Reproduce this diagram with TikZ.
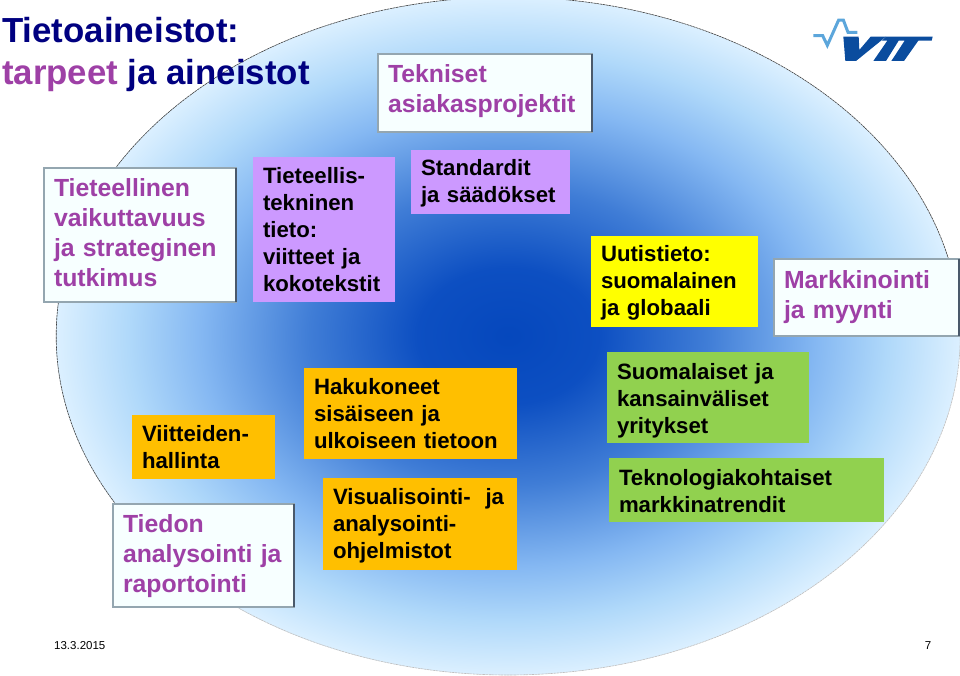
\documentclass[tikz,border=0pt]{standalone}
\usepackage{fontspec}
\setmainfont{Liberation Sans}
\usepackage{xcolor}
\usetikzlibrary{shapes.geometric, positioning}
\definecolor{titlenavy}{rgb}{0.0,0.0,0.5}
\definecolor{labelpurple}{rgb}{0.62,0.25,0.65}
\definecolor{tietopurple}{rgb}{0.80,0.60,1.0}
\definecolor{uutisyellow}{rgb}{1.0,1.0,0.0}
\definecolor{hakuorange}{rgb}{1.0,0.75,0.0}
\definecolor{yritysgreen}{rgb}{0.57,0.82,0.31}
\definecolor{bevelgrey}{rgb}{0.58,0.65,0.69}
\definecolor{beveldark}{rgb}{0.29,0.35,0.42}
\definecolor{bevelfill}{rgb}{0.97,1.0,1.0}
\definecolor{vttblue}{rgb}{0.04,0.30,0.62}
\definecolor{vttsky}{rgb}{0.36,0.65,0.86}
\pgfdeclareradialshading{discblue}{\pgfpoint{0bp}{0bp}}{
  rgb(0bp)=(0.02,0.28,0.74);
  rgb(5bp)=(0.05,0.31,0.76);
  rgb(11bp)=(0.25,0.49,0.84);
  rgb(17bp)=(0.52,0.72,0.95);
  rgb(21bp)=(0.69,0.85,0.98);
  rgb(25bp)=(0.86,0.94,1.0);
  rgb(50bp)=(1.0,1.0,1.0)}

\begin{document}
\begin{tikzpicture}[x=1pt, y=-1pt,
    box/.style 2 args={rectangle, text width=#1, minimum height=#2, inner xsep=10pt, inner ysep=0pt, align=left},
    smallbox/.style={font=\fontsize{22.2}{27}\selectfont\bfseries, text=black},
    bevelbox/.style={draw=bevelgrey, line width=1.6pt, outer sep=0pt, fill=bevelfill, font=\fontsize{24.8}{30}\selectfont\bfseries, text=labelpurple},
    bevelside/.style={draw=beveldark, line width=1.6pt},
    textdown/.style={execute at end node={\endgraf\vspace{-#1}}},
    discrim/.style={dash pattern=on 2.5pt off 0.6pt, line width=0.6pt}
]

\clip (0,0) rectangle (960,675);

\node[ellipse, minimum width=904pt, minimum height=678pt, inner sep=0pt, shade, shading=discblue] (disc) at (508,336) {};
\draw[discrim, draw=black!75] (disc.east) arc[start angle=0, end angle=215, x radius=452pt, y radius=339pt];
\draw[discrim, draw=black!25] (disc.east) arc[start angle=0, end angle=-145, x radius=452pt, y radius=339pt];

\node[anchor=west, inner sep=2pt, align=left, text=titlenavy, font=\fontsize{34.8}{42}\selectfont\bfseries] (title) at (0,54.5) {Tietoaineistot:\\\textcolor{labelpurple}{tarpeet} ja aineistot};

\node[box={194pt}{78pt}, bevelbox, textdown=-4pt] (projects) at (485,93) {Tekniset\\asiakasprojektit};
\node[box={172pt}{134pt}, bevelbox, textdown=-4pt] (impact) at (140,235) {Tieteellinen\\vaikuttavuus\\ja strateginen\\tutkimus};
\node[box={165pt}{77pt}, bevelbox] (marketing) at (866.5,297.5) {Markkinointi\\ja myynti};
\node[box={161pt}{103pt}, bevelbox, textdown=2pt] (analysis) at (203.5,555.5) {Tiedon\\analysointi ja\\raportointi};

\node[box={122pt}{145pt}, smallbox, fill=tietopurple] (science) at (324,229.5) {Tieteellis-\\tekninen\\tieto:\\viitteet ja\\kokotekstit};
\node[box={139pt}{64pt}, smallbox, fill=tietopurple, textdown=2pt] (standards) at (490.5,182) {Standardit\\ja säädökset};
\node[box={147pt}{91pt}, smallbox, fill=uutisyellow, textdown=2pt] (news) at (674.5,281.5) {Uutistieto:\\suomalainen\\ja globaali};
\node[box={123pt}{64pt}, smallbox, fill=hakuorange] (references) at (203.5,447) {Viitteiden-\\hallinta};
\node[box={193pt}{91pt}, smallbox, fill=hakuorange] (engines) at (410.5,413.5) {Hakukoneet\\sisäiseen ja\\ulkoiseen tietoon};
\node[box={174pt}{92pt}, smallbox, fill=hakuorange, textdown=4pt] (visual) at (420,524) {Visualisointi-~ ja\\analysointi-\\ohjelmistot};
\node[box={182pt}{91pt}, smallbox, fill=yritysgreen, textdown=6pt] (companies) at (708,397.5) {Suomalaiset ja\\kansainväliset\\yritykset};
\node[box={255pt}{64pt}, smallbox, fill=yritysgreen, textdown=2pt] (trends) at (746.5,490) {Teknologiakohtaiset\\markkinatrendit};

\foreach \n in {projects, impact, marketing, analysis}
  \draw[bevelside] (\n.north east) -- (\n.south east);

\node[anchor=west, inner sep=0pt, font=\fontsize{11.5}{14}\selectfont] (date) at (54,646) {13.3.2015};
\node[inner sep=0pt, font=\fontsize{11.5}{14}\selectfont] (page) at (928,646) {7};

\begin{scope}[shift={(780pt,0pt)}, x=0.3333pt, y=-0.3333pt]
\draw[vttsky, line width=3pt, line join=miter] (100,107) -- (128,107) -- (142,136) -- (176,60) -- (190,60) -- (204,97) -- (232,97);
\fill[vttblue] (190,110) -- (236,110) -- (238,150) -- (272,110) -- (318,110) -- (228,183) -- (196,183) -- cycle;
\fill[vttblue] (318,110) -- (458,110) -- (455,122) -- (415,122) -- (372,183) -- (334,183) -- (374,122) -- (356,122) -- (318,183) -- (280,183) -- (322,122) -- (306,122) -- cycle;
\end{scope}

\end{tikzpicture}
\end{document}
